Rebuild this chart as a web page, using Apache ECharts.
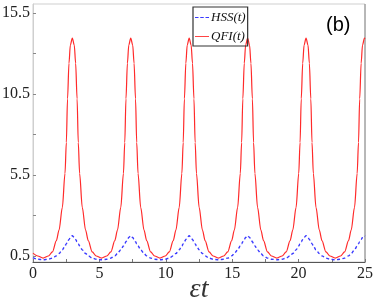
<!DOCTYPE html>
<html><head><meta charset="utf-8">
<script src="https://cdn.jsdelivr.net/npm/echarts@6/dist/echarts.min.js"></script>
<style>html,body{margin:0;padding:0;background:#fff}#c{width:374px;height:301px}</style>
</head><body><div id="c"></div>
<script>
// time values (εt)
const tValues = [
  0, 0.36, 0.76,
  1.16, 1.46, 1.76, 1.96, 2.21, 2.41, 2.51, 2.60, 2.71, 2.81, 2.96, 3.11, 3.21, 3.32, 3.41, 3.51, 3.71, 3.96, 4.16, 4.46, 4.76, 5.16,
  5.56, 5.86, 6.16, 6.36, 6.61, 6.81, 6.91, 7.00, 7.11, 7.21, 7.36, 7.51, 7.61, 7.72, 7.81, 7.91, 8.11, 8.36, 8.56, 8.86, 9.16, 9.56,
  9.96, 10.26, 10.56, 10.76, 11.01, 11.21, 11.31, 11.40, 11.51, 11.61, 11.76, 11.91, 12.01, 12.12, 12.21, 12.31, 12.51, 12.76, 12.96, 13.26, 13.56, 13.96,
  14.36, 14.66, 14.96, 15.16, 15.41, 15.61, 15.71, 15.80, 15.91, 16.01, 16.16, 16.31, 16.41, 16.52, 16.61, 16.71, 16.91, 17.16, 17.36, 17.66, 17.96, 18.36,
  18.76, 19.06, 19.36, 19.56, 19.81, 20.01, 20.11, 20.20, 20.31, 20.41, 20.56, 20.71, 20.81, 20.92, 21.01, 21.11, 21.31, 21.56, 21.76, 22.06, 22.36, 22.76,
  23.16, 23.46, 23.76, 23.96, 24.21, 24.41, 24.51, 24.60, 24.71, 24.81, 24.96, 25
];
// QFI(t)
const qfiValues = [
  0.68, 0.5, 0.37,
  0.5, 0.75, 1.45, 2.1, 3.5, 5.6, 7.5, 10.2, 12.4, 13.5, 13.95, 13.5, 12.4, 10.2, 7.5, 5.6, 3.5, 2.1, 1.45, 0.75, 0.5, 0.37,
  0.5, 0.75, 1.45, 2.1, 3.5, 5.6, 7.5, 10.2, 12.4, 13.5, 13.95, 13.5, 12.4, 10.2, 7.5, 5.6, 3.5, 2.1, 1.45, 0.75, 0.5, 0.37,
  0.5, 0.75, 1.45, 2.1, 3.5, 5.6, 7.5, 10.2, 12.4, 13.5, 13.95, 13.5, 12.4, 10.2, 7.5, 5.6, 3.5, 2.1, 1.45, 0.75, 0.5, 0.37,
  0.5, 0.75, 1.45, 2.1, 3.5, 5.6, 7.5, 10.2, 12.4, 13.5, 13.95, 13.5, 12.4, 10.2, 7.5, 5.6, 3.5, 2.1, 1.45, 0.75, 0.5, 0.37,
  0.5, 0.75, 1.45, 2.1, 3.5, 5.6, 7.5, 10.2, 12.4, 13.5, 13.95, 13.5, 12.4, 10.2, 7.5, 5.6, 3.5, 2.1, 1.45, 0.75, 0.5, 0.37,
  0.5, 0.75, 1.45, 2.1, 3.5, 5.6, 7.5, 10.2, 12.4, 13.5, 13.95, 13.9
];
// HSS(t)
const hssValues = [
  0.4, 0.3, 0.27,
  0.3, 0.37, 0.51, 0.65, 0.88, 1.12, 1.25, 1.38, 1.52, 1.64, 1.75, 1.64, 1.52, 1.38, 1.25, 1.12, 0.88, 0.65, 0.51, 0.37, 0.3, 0.27,
  0.3, 0.37, 0.51, 0.65, 0.88, 1.12, 1.25, 1.38, 1.52, 1.64, 1.75, 1.64, 1.52, 1.38, 1.25, 1.12, 0.88, 0.65, 0.51, 0.37, 0.3, 0.27,
  0.3, 0.37, 0.51, 0.65, 0.88, 1.12, 1.25, 1.38, 1.52, 1.64, 1.75, 1.64, 1.52, 1.38, 1.25, 1.12, 0.88, 0.65, 0.51, 0.37, 0.3, 0.27,
  0.3, 0.37, 0.51, 0.65, 0.88, 1.12, 1.25, 1.38, 1.52, 1.64, 1.75, 1.64, 1.52, 1.38, 1.25, 1.12, 0.88, 0.65, 0.51, 0.37, 0.3, 0.27,
  0.3, 0.37, 0.51, 0.65, 0.88, 1.12, 1.25, 1.38, 1.52, 1.64, 1.75, 1.64, 1.52, 1.38, 1.25, 1.12, 0.88, 0.65, 0.51, 0.37, 0.3, 0.27,
  0.3, 0.37, 0.51, 0.65, 0.88, 1.12, 1.25, 1.38, 1.52, 1.64, 1.75, 1.72
];
const yTickLabels = [0.5, 5.5, 10.5, 15.5];
const yTickMarks = [0.5, 3, 5.5, 8, 10.5, 13, 15.5];
const xTickLabels = [0, 5, 10, 15, 20, 25];
const xTickMarks = [0, 2.5, 5, 7.5, 10, 12.5, 15, 17.5, 20, 22.5, 25];

const chart = echarts.init(document.getElementById('c'));
const serif = 'Liberation Serif';
const labRich = {n: {fontFamily: serif, fontSize: 16, color: '#222'}};
chart.setOption({
  animation: false,
  textStyle: {fontFamily: serif},
  grid: {left: 33, right: 9, top: 4, bottom: 39, show: true, borderColor: '#cfcfcf', borderWidth: 1,
         outerBoundsMode: 'none', containLabel: false},
  legend: {
    orient: 'vertical', left: 193, top: 7,
    borderColor: '#333', borderWidth: 1.2, padding: [4, 2, 3, 2],
    itemWidth: 14, itemHeight: 1.5, itemGap: 6,
    textStyle: {fontFamily: serif, fontStyle: 'italic', fontSize: 13, color: '#111', padding: [0, 0, 0, -3]},
    data: [
      {name: 'HSS(t)', icon: 'path://M0,0H4V1H0Z M6,0H10V1H6Z M12,0H16V1H12Z'},
      {name: 'QFI(t)', icon: 'path://M0,0H16V1H0Z'}
    ]
  },
  graphic: [
    {type: 'text', left: 326, top: 15, style: {text: '(b)', fontFamily: 'Liberation Sans', fontSize: 20, fill: '#000'}},
    {type: 'line', shape: {x1: 365, y1: 4, x2: 365, y2: 262}, style: {stroke: '#888', lineWidth: 1}}
  ],
  xAxis: {
    type: 'value', min: 0, max: 25, interval: 5,
    name: '{e|εt}', nameLocation: 'middle', nameGap: 14, nameMoveOverlap: false,
    nameTextStyle: {rich: {e: {fontFamily: serif, fontStyle: 'italic', fontSize: 28, color: '#333'}}},
    axisLine: {lineStyle: {color: '#555', width: 1.2}},
    axisTick: {inside: true, length: 3, customValues: xTickMarks, lineStyle: {color: '#777'}},
    axisLabel: {customValues: xTickLabels, margin: 4, formatter: v => '{n|' + v + '}', rich: labRich},
    splitLine: {show: false}
  },
  yAxis: {
    type: 'value', min: 0.13, max: 16.05,
    axisLine: {show: true, lineStyle: {color: '#cfcfcf'}},
    axisTick: {show: true, inside: true, length: 3, customValues: yTickMarks, lineStyle: {color: '#888'}},
    axisLabel: {customValues: yTickLabels, margin: 3, formatter: v => '{n|' + v.toFixed(1) + '}', rich: labRich},
    splitLine: {show: false}
  },
  series: [
    {name: 'HSS(t)', type: 'line', showSymbol: false, symbol: 'none', smooth: 0.3, smoothMonotone: 'x',
     lineStyle: {color: '#3a3aff', width: 1.4, type: [3, 2.5]}, itemStyle: {color: '#3a3aff'},
     data: tValues.map((t, i) => [t, hssValues[i]]), z: 3},
    {name: 'QFI(t)', type: 'line', showSymbol: false, symbol: 'none', smooth: 0.3, smoothMonotone: 'x',
     lineStyle: {color: '#ff2a2a', width: 1.2}, itemStyle: {color: '#ff2a2a'},
     data: tValues.map((t, i) => [t, qfiValues[i]]), z: 2}
  ]
});
</script></body></html>
